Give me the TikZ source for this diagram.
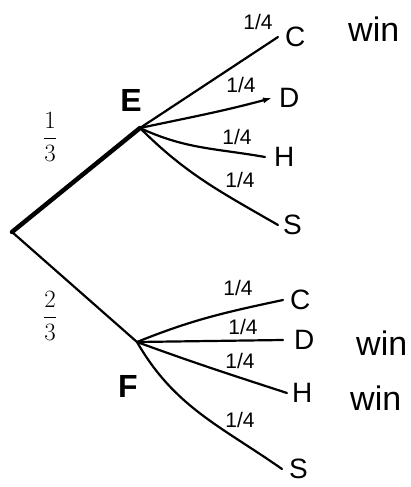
\documentclass[tikz,border=0pt]{standalone}
\usepackage{fontspec}
\setmainfont{Liberation Sans}
\usetikzlibrary{arrows.meta,positioning}

\begin{document}
\begin{tikzpicture}[
    x=1pt, y=1pt,
    branch/.style={line width=2.2pt, black, line cap=round},
    trunk/.style={line width=4.5pt, black, line cap=round},
    leaf/.style={inner sep=0pt, anchor=west, font=\fontsize{28}{30}\selectfont},
    prob/.style={inner sep=0pt, font=\fontsize{21}{23}\selectfont},
    winlbl/.style={inner sep=0pt, anchor=west, font=\fontsize{34}{36}\selectfont},
    stage/.style={inner sep=0pt, font=\fontsize{32}{34}\selectfont\bfseries},
    frac/.style={inner sep=0pt, font=\fontsize{30}{32}\selectfont}
  ]
    \useasboundingbox (0,0) rectangle (410,-487);
    % branching points
    \coordinate (root) at (12,-232);
    \coordinate (e) at (140,-128);
    \coordinate (f) at (137,-342);
    % ends of the E branches
    \coordinate (ec) at (278,-37);
    \coordinate (ed) at (272,-98);
    \coordinate (eh) at (265,-157);
    \coordinate (es) at (278,-225);
    % ends of the F branches
    \coordinate (fc) at (283,-300);
    \coordinate (fd) at (283,-340);
    \coordinate (fh) at (287,-393);
    \coordinate (fs) at (282,-469);

    \node[stage] (elbl) at (131,-100) {E};
    \node[stage] (flbl) at (128,-386) {F};
    \node[frac] (pe) at (50,-137) {$\displaystyle\frac{1}{3}$};
    \node[frac] (pf) at (50,-316) {$\displaystyle\frac{2}{3}$};

    \node[leaf, right=7pt of ec] (lec) {C};
    \node[leaf, right=7pt of ed] (led) {D};
    \node[leaf, right=9pt of eh] (leh) {H};
    \node[leaf, right=5pt of es] (les) {S};
    \node[leaf, right=7pt of fc] (lfc) {C};
    \node[leaf, right=11pt of fd] (lfd) {D};
    \node[leaf, right=5pt of fh] (lfh) {H};
    \node[leaf, right=7pt of fs] (lfs) {S};

    \node[winlbl] (w1) at (348,-29) {win};
    \node[winlbl] (w2) at (356,-343) {win};
    \node[winlbl] (w3) at (350,-398) {win};

    \node[prob] (q1) at (258,-22) {1/4};
    \node[prob] (q2) at (241,-85) {1/4};
    \node[prob] (q3) at (237,-137) {1/4};
    \node[prob] (q4) at (240,-180) {1/4};
    \node[prob] (q5) at (238,-288) {1/4};
    \node[prob] (q6) at (243,-327) {1/4};
    \node[prob] (q7) at (240,-361) {1/4};
    \node[prob] (q8) at (240,-420) {1/4};

    \draw[trunk] (root) -- (e);
    \draw[branch] (root) -- (f);
    \draw[branch] (e) -- (ec);
    \draw[branch, -{Latex[length=9pt,width=6pt]}] (e) to[out=12, in=195] (ed);
    \draw[branch] (e) to[out=-25, in=170] (eh);
    \draw[branch] (e) to[out=-45, in=150] (es);
    \draw[branch] (f) to[out=22, in=192] (fc);
    \draw[branch] (f) -- (fd);
    \draw[branch] (f) to[out=-20, in=162] (fh);
    \draw[branch] (f) to[out=-60, in=145] (fs);
  \end{tikzpicture}
\end{document}
